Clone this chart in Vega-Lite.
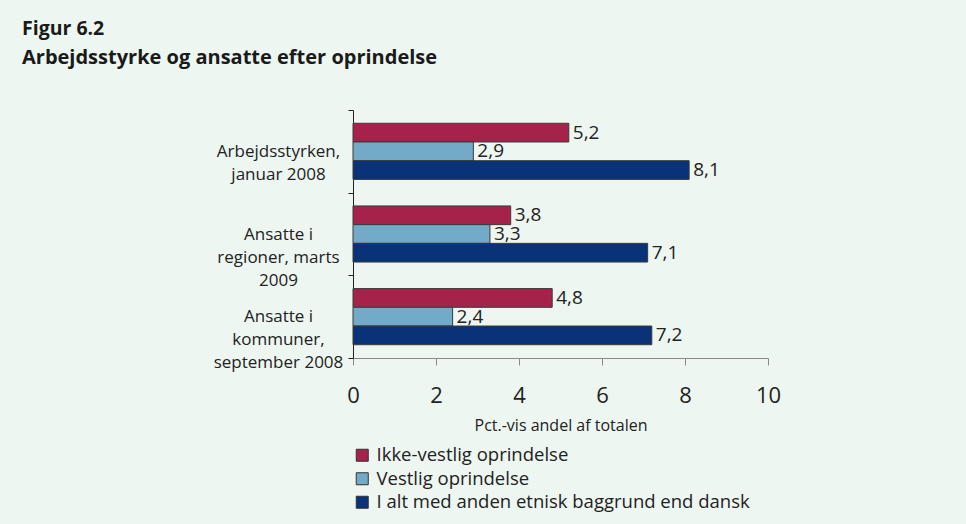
{
  "$schema": "https://vega.github.io/schema/vega-lite/v6.json",
  "width": 415,
  "height": 248,
  "autosize": {"type": "none"},
  "padding": {"left": 353, "top": 110, "right": 198, "bottom": 166},
  "background": "#EEF6F1",
  "config": {
    "view": {"stroke": null},
    "font": "Open Sans",
    "locale": {"number": {"decimal": ",", "thousands": ".", "grouping": [3], "currency": ["", " kr."]}}
  },
  "title": {
    "text": "Figur 6.2",
    "subtitle": "Arbejdsstyrke og ansatte efter oprindelse",
    "anchor": "start",
    "frame": "group",
    "dx": -331,
    "font": "Open Sans",
    "fontSize": 19.5,
    "fontWeight": "bold",
    "color": "#1a1a1a",
    "subtitleFont": "Open Sans",
    "subtitleFontSize": 20,
    "subtitleFontWeight": "bold",
    "subtitleColor": "#1a1a1a",
    "offset": 32,
    "subtitlePadding": 9
  },
  "data": {
    "values": [
      {"kategori": "Arbejdsstyrken,|januar 2008", "serie": "Ikke-vestlig oprindelse", "pct": 5.2},
      {"kategori": "Arbejdsstyrken,|januar 2008", "serie": "Vestlig oprindelse", "pct": 2.9},
      {"kategori": "Arbejdsstyrken,|januar 2008", "serie": "I alt med anden etnisk baggrund end dansk", "pct": 8.1},
      {"kategori": "Ansatte i|regioner, marts|2009", "serie": "Ikke-vestlig oprindelse", "pct": 3.8},
      {"kategori": "Ansatte i|regioner, marts|2009", "serie": "Vestlig oprindelse", "pct": 3.3},
      {"kategori": "Ansatte i|regioner, marts|2009", "serie": "I alt med anden etnisk baggrund end dansk", "pct": 7.1},
      {"kategori": "Ansatte i|kommuner,|september 2008", "serie": "Ikke-vestlig oprindelse", "pct": 4.8},
      {"kategori": "Ansatte i|kommuner,|september 2008", "serie": "Vestlig oprindelse", "pct": 2.4},
      {"kategori": "Ansatte i|kommuner,|september 2008", "serie": "I alt med anden etnisk baggrund end dansk", "pct": 7.2}
    ]
  },
  "encoding": {
    "y": {
      "field": "kategori",
      "type": "nominal",
      "sort": null,
      "scale": {"paddingInner": 0, "paddingOuter": 0},
      "axis": {
        "title": null,
        "labelExpr": "split(datum.label, '|')",
        "labelAlign": "center",
        "labelBaseline": "middle",
        "labelPadding": 70,
        "labelFontSize": 17,
        "labelLineHeight": 23,
        "labelColor": "#222222",
        "labelLimit": 0,
        "tickBand": "extent",
        "tickSize": 5,
        "tickColor": "#222222",
        "domainColor": "#222222"
      }
    },
    "yOffset": {
      "field": "serie",
      "type": "nominal",
      "sort": ["Ikke-vestlig oprindelse", "Vestlig oprindelse", "I alt med anden etnisk baggrund end dansk"],
      "scale": {"paddingInner": 0, "paddingOuter": 0.71}
    },
    "x": {
      "field": "pct",
      "type": "quantitative",
      "scale": {"domain": [0, 10]},
      "axis": {
        "values": [0, 2, 4, 6, 8, 10],
        "format": "d",
        "grid": false,
        "labelFlush": false,
        "labelFontSize": 22,
        "labelColor": "#222222",
        "labelPadding": 20,
        "tickSize": 7,
        "tickColor": "#888888",
        "domainColor": "#888888",
        "title": "Pct.-vis andel af totalen",
        "titleFontSize": 16,
        "titleFontWeight": "normal",
        "titleColor": "#222222",
        "titlePadding": 11
      }
    }
  },
  "layer": [
    {
      "mark": {"type": "bar", "stroke": "#3a3a3a", "strokeWidth": 1},
      "encoding": {
        "color": {
          "field": "serie",
          "type": "nominal",
          "scale": {
            "domain": ["Ikke-vestlig oprindelse", "Vestlig oprindelse", "I alt med anden etnisk baggrund end dansk"],
            "range": ["#A5234B", "#72AAC8", "#0A3278"]
          },
          "legend": {
            "orient": "none",
            "legendX": 0,
            "legendY": 336,
            "direction": "vertical",
            "title": null,
            "symbolType": "square",
            "symbolSize": 144,
            "symbolStrokeColor": "#333333",
            "symbolStrokeWidth": 1,
            "labelFontSize": 18.5,
            "labelColor": "#222222",
            "labelOffset": 5,
            "labelLimit": 0,
            "rowPadding": 4.5
          }
        }
      }
    },
    {
      "mark": {"type": "text", "align": "left", "baseline": "middle", "dx": 4, "fontSize": 19, "color": "#222222"},
      "encoding": {
        "text": {"field": "pct", "type": "quantitative", "format": ".1f"}
      }
    }
  ]
}
